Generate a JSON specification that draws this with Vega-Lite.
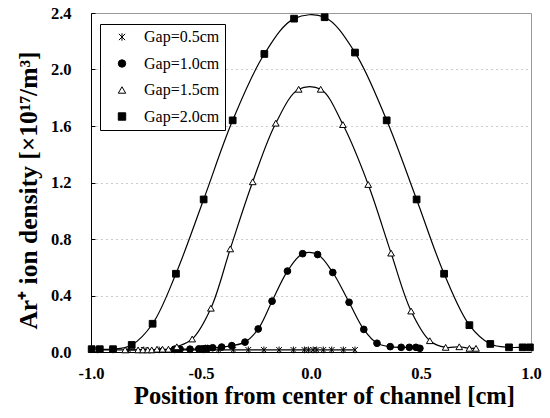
{
  "$schema": "https://vega.github.io/schema/vega-lite/v6.json",
  "autosize": {"type": "none"},
  "width": 440,
  "height": 339,
  "padding": {"left": 91, "top": 13, "right": 19, "bottom": 66},
  "background": "white",
  "config": {
    "view": {"stroke": "#999", "strokeWidth": 1},
    "font": "Liberation Serif"
  },
  "data": {
    "values": [
      {"gap": "Gap=0.5cm", "x": -0.97, "y": 0.015},
      {"gap": "Gap=0.5cm", "x": -0.90, "y": 0.015},
      {"gap": "Gap=0.5cm", "x": -0.83, "y": 0.015},
      {"gap": "Gap=0.5cm", "x": -0.76, "y": 0.015},
      {"gap": "Gap=0.5cm", "x": -0.69, "y": 0.015},
      {"gap": "Gap=0.5cm", "x": -0.62, "y": 0.015},
      {"gap": "Gap=0.5cm", "x": -0.55, "y": 0.015},
      {"gap": "Gap=0.5cm", "x": -0.49, "y": 0.015},
      {"gap": "Gap=0.5cm", "x": -0.42, "y": 0.015},
      {"gap": "Gap=0.5cm", "x": -0.353, "y": 0.015},
      {"gap": "Gap=0.5cm", "x": -0.285, "y": 0.015},
      {"gap": "Gap=0.5cm", "x": -0.214, "y": 0.015},
      {"gap": "Gap=0.5cm", "x": -0.145, "y": 0.015},
      {"gap": "Gap=0.5cm", "x": -0.08, "y": 0.015},
      {"gap": "Gap=0.5cm", "x": -0.03, "y": 0.015},
      {"gap": "Gap=0.5cm", "x": -0.012, "y": 0.015},
      {"gap": "Gap=0.5cm", "x": 0.01, "y": 0.015},
      {"gap": "Gap=0.5cm", "x": 0.026, "y": 0.015},
      {"gap": "Gap=0.5cm", "x": 0.056, "y": 0.015},
      {"gap": "Gap=0.5cm", "x": 0.094, "y": 0.015},
      {"gap": "Gap=0.5cm", "x": 0.147, "y": 0.015},
      {"gap": "Gap=0.5cm", "x": 0.2, "y": 0.015},

      {"gap": "Gap=1.0cm", "x": -0.62, "y": 0.02},
      {"gap": "Gap=1.0cm", "x": -0.595, "y": 0.02},
      {"gap": "Gap=1.0cm", "x": -0.55, "y": 0.02},
      {"gap": "Gap=1.0cm", "x": -0.51, "y": 0.022},
      {"gap": "Gap=1.0cm", "x": -0.495, "y": 0.022},
      {"gap": "Gap=1.0cm", "x": -0.48, "y": 0.025},
      {"gap": "Gap=1.0cm", "x": -0.47, "y": 0.025},
      {"gap": "Gap=1.0cm", "x": -0.447, "y": 0.03},
      {"gap": "Gap=1.0cm", "x": -0.406, "y": 0.035},
      {"gap": "Gap=1.0cm", "x": -0.36, "y": 0.045},
      {"gap": "Gap=1.0cm", "x": -0.30, "y": 0.07},
      {"gap": "Gap=1.0cm", "x": -0.24, "y": 0.163},
      {"gap": "Gap=1.0cm", "x": -0.177, "y": 0.36},
      {"gap": "Gap=1.0cm", "x": -0.107, "y": 0.573},
      {"gap": "Gap=1.0cm", "x": -0.038, "y": 0.696},
      {"gap": "Gap=1.0cm", "x": 0.03, "y": 0.69},
      {"gap": "Gap=1.0cm", "x": 0.099, "y": 0.563},
      {"gap": "Gap=1.0cm", "x": 0.173, "y": 0.352},
      {"gap": "Gap=1.0cm", "x": 0.24, "y": 0.16},
      {"gap": "Gap=1.0cm", "x": 0.30, "y": 0.062},
      {"gap": "Gap=1.0cm", "x": 0.36, "y": 0.038},
      {"gap": "Gap=1.0cm", "x": 0.41, "y": 0.033},
      {"gap": "Gap=1.0cm", "x": 0.447, "y": 0.033},
      {"gap": "Gap=1.0cm", "x": 0.477, "y": 0.033},
      {"gap": "Gap=1.0cm", "x": 0.495, "y": 0.026},

      {"gap": "Gap=1.5cm", "x": -0.845, "y": 0.015},
      {"gap": "Gap=1.5cm", "x": -0.786, "y": 0.015},
      {"gap": "Gap=1.5cm", "x": -0.764, "y": 0.015},
      {"gap": "Gap=1.5cm", "x": -0.742, "y": 0.015},
      {"gap": "Gap=1.5cm", "x": -0.724, "y": 0.015},
      {"gap": "Gap=1.5cm", "x": -0.70, "y": 0.02},
      {"gap": "Gap=1.5cm", "x": -0.675, "y": 0.02},
      {"gap": "Gap=1.5cm", "x": -0.648, "y": 0.02},
      {"gap": "Gap=1.5cm", "x": -0.61, "y": 0.037},
      {"gap": "Gap=1.5cm", "x": -0.54, "y": 0.092},
      {"gap": "Gap=1.5cm", "x": -0.455, "y": 0.31},
      {"gap": "Gap=1.5cm", "x": -0.367, "y": 0.73},
      {"gap": "Gap=1.5cm", "x": -0.265, "y": 1.205},
      {"gap": "Gap=1.5cm", "x": -0.16, "y": 1.62},
      {"gap": "Gap=1.5cm", "x": -0.056, "y": 1.86},
      {"gap": "Gap=1.5cm", "x": 0.044, "y": 1.86},
      {"gap": "Gap=1.5cm", "x": 0.145, "y": 1.61},
      {"gap": "Gap=1.5cm", "x": 0.26, "y": 1.186},
      {"gap": "Gap=1.5cm", "x": 0.364, "y": 0.70},
      {"gap": "Gap=1.5cm", "x": 0.455, "y": 0.29},
      {"gap": "Gap=1.5cm", "x": 0.54, "y": 0.08},
      {"gap": "Gap=1.5cm", "x": 0.612, "y": 0.033},
      {"gap": "Gap=1.5cm", "x": 0.674, "y": 0.037},
      {"gap": "Gap=1.5cm", "x": 0.72, "y": 0.026},
      {"gap": "Gap=1.5cm", "x": 0.75, "y": 0.026},

      {"gap": "Gap=2.0cm", "x": -0.997, "y": 0.02},
      {"gap": "Gap=2.0cm", "x": -0.96, "y": 0.02},
      {"gap": "Gap=2.0cm", "x": -0.90, "y": 0.02},
      {"gap": "Gap=2.0cm", "x": -0.815, "y": 0.05},
      {"gap": "Gap=2.0cm", "x": -0.72, "y": 0.2},
      {"gap": "Gap=2.0cm", "x": -0.614, "y": 0.554},
      {"gap": "Gap=2.0cm", "x": -0.488, "y": 1.08},
      {"gap": "Gap=2.0cm", "x": -0.356, "y": 1.64},
      {"gap": "Gap=2.0cm", "x": -0.212, "y": 2.11},
      {"gap": "Gap=2.0cm", "x": -0.077, "y": 2.36},
      {"gap": "Gap=2.0cm", "x": 0.062, "y": 2.37},
      {"gap": "Gap=2.0cm", "x": 0.2, "y": 2.12},
      {"gap": "Gap=2.0cm", "x": 0.344, "y": 1.64},
      {"gap": "Gap=2.0cm", "x": 0.48, "y": 1.08},
      {"gap": "Gap=2.0cm", "x": 0.605, "y": 0.554},
      {"gap": "Gap=2.0cm", "x": 0.72, "y": 0.19},
      {"gap": "Gap=2.0cm", "x": 0.815, "y": 0.057},
      {"gap": "Gap=2.0cm", "x": 0.90, "y": 0.033},
      {"gap": "Gap=2.0cm", "x": 0.962, "y": 0.033},
      {"gap": "Gap=2.0cm", "x": 0.995, "y": 0.033}
    ]
  },
  "encoding": {
    "x": {
      "field": "x", "type": "quantitative",
      "scale": {"domain": [-1, 1], "nice": false, "zero": false},
      "axis": {
        "values": [-1, -0.5, 0, 0.5, 1],
        "format": ".1f",
        "labelExpr": "replace(datum.label, '\u2212', '-')",
        "labelFlush": false,
        "grid": false,
        "ticks": false,
        "domainColor": "black",
        "labelFont": "Liberation Serif", "labelFontWeight": "bold", "labelFontSize": 16.5, "labelColor": "black",
        "labelPadding": 13,
        "title": "Position from center of channel [cm]",
        "titleFont": "Liberation Serif", "titleFontWeight": "bold", "titleFontSize": 24.5, "titleColor": "black",
        "titlePadding": 3,
        "titleX": 233,
        "titleAlign": "center"
      }
    },
    "y": {
      "field": "y", "type": "quantitative",
      "scale": {"domain": [0, 2.4], "nice": false},
      "axis": {
        "values": [0, 0.4, 0.8, 1.2, 1.6, 2.0, 2.4],
        "format": ".1f",
        "labelFlush": false,
        "grid": true, "gridColor": "#999", "gridDash": [1, 4], "gridWidth": 1,
        "ticks": true, "tickSize": -4, "tickColor": "black",
        "domainColor": "black",
        "labelFont": "Liberation Serif", "labelFontWeight": "bold", "labelFontSize": 16.5, "labelColor": "black",
        "labelPadding": 24,
        "title": "Ar\u207a ion density [\u00d710\u00b9\u2077/m\u00b3]",
        "titleFont": "Liberation Serif", "titleFontWeight": "bold", "titleFontSize": 25.5, "titleColor": "black",
        "titlePadding": 9,
        "titleY": 177,
        "titleAlign": "center"
      }
    }
  },
  "layer": [
    {
      "mark": {"type": "line", "interpolate": "catmull-rom", "color": "black", "strokeWidth": 1.2},
      "encoding": {"detail": {"field": "gap"}}
    },
    {
      "mark": {"type": "point", "filled": true, "stroke": "black", "strokeWidth": 1, "opacity": 1},
      "encoding": {
        "shape": {
          "field": "gap", "type": "nominal",
          "scale": {
            "domain": ["Gap=0.5cm", "Gap=1.0cm", "Gap=1.5cm", "Gap=2.0cm"],
            "range": ["M0,-1V1M-0.85,-0.85L0.85,0.85M-0.85,0.85L0.85,-0.85", "circle", "triangle-up", "square"]
          },
          "legend": null
        },
        "color": {
          "field": "gap", "type": "nominal",
          "scale": {"domain": ["Gap=0.5cm", "Gap=1.0cm", "Gap=1.5cm", "Gap=2.0cm"], "range": ["black", "black", "white", "black"]},
          "legend": {
            "title": null,
            "orient": "none",
            "legendX": 9,
            "legendY": 11,
            "padding": 5,
            "strokeColor": "black",
            "fillColor": "white",
            "symbolSize": 55,
            "symbolStrokeColor": "black",
            "symbolStrokeWidth": 1,
            "symbolOffset": 9,
            "labelOffset": 14,
            "rowPadding": 10.5,
            "labelFont": "Liberation Serif",
            "labelFontSize": 16,
            "labelColor": "black"
          }
        },
        "size": {"value": 45}
      }
    }
  ]
}
